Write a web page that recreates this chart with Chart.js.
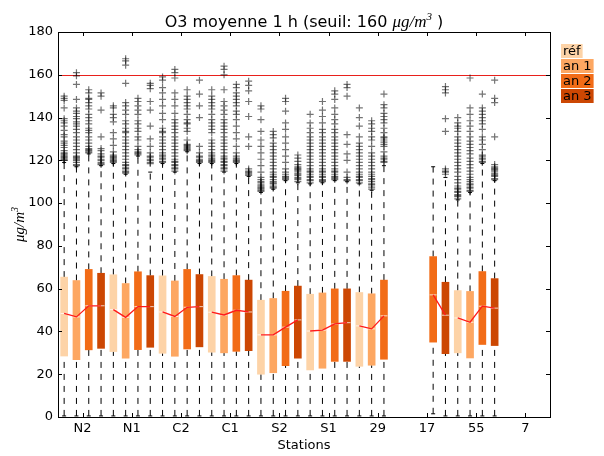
<!DOCTYPE html>
<html>
<head>
<meta charset="utf-8">
<title>O3 moyenne 1 h</title>
<script src="https://cdn.jsdelivr.net/npm/chart.js@4.4.1/dist/chart.umd.min.js"></script>
<style>
  html, body { margin: 0; padding: 0; background: #fff; }
  canvas { display: block; }
</style>
</head>
<body>
<canvas id="o3Chart" width="604" height="456"></canvas>
<script>
// Stations and periods
const stations = ['N2', 'N1', 'C2', 'C1', 'S2', 'S1', '29', '17', '55', '7'];
const periods = ['réf', 'an 1', 'an 2', 'an 3'];
const yTicks = [0, 20, 40, 60, 80, 100, 120, 140, 160, 180];
const threshold = 160;

// Box statistics per station (null = no data)
const refLow  = [0.5, 0.5, 0.5, 0.5, 0.5, 0.5, 0.5, null, 0.5, null];
const refQ1   = [28.5, 30.6, 29.8, 30.3, 20.0, 22.0, 23.7, null, 30.0, null];
const refMed  = [48.4, 50.2, 49.1, 49.0, 38.4, 40.2, 42.6, null, 46.3, null];
const refQ3   = [65.4, 66.5, 66.0, 65.7, 54.6, 57.4, 58.2, null, 59.1, null];
const refHigh = [119, 118.5, 118.5, 118.5, 105, 109, 109, null, 101.5, null];

const an1Low  = [0.5, 0.5, 0.5, 0.5, 0.5, 0.5, 0.5, null, 0.5, null];
const an1Q1   = [26.8, 27.5, 28.4, 30.0, 20.7, 22.8, 24.2, null, 27.6, null];
const an1Med  = [46.8, 46.6, 47.0, 47.7, 38.4, 40.6, 41.2, null, 44.3, null];
const an1Q3   = [63.8, 62.4, 63.6, 64.4, 55.4, 58.0, 57.6, null, 58.7, null];
const an1High = [117, 113.5, 114.5, 114.5, 106.5, 109.5, 106, null, 105, null];

const an2Low  = [0.5, 0.5, 0.5, 0.5, 0.5, 0.5, 0.5, 1.5, 0.5, null];
const an2Q1   = [31.4, 31.5, 31.8, 30.7, 24.0, 26.0, 27.0, 35.0, 33.9, null];
const an2Med  = [52.0, 51.6, 51.3, 49.9, 42.0, 43.5, 47.3, 57.1, 51.8, null];
const an2Q3   = [69.0, 67.9, 69.0, 66.1, 58.8, 59.9, 64.0, 75.0, 68.0, null];
const an2High = [123, 122, 124, 118.5, 110.5, 110.5, 117.5, 117, 118.5, null];

const an3Low  = [0.5, 0.5, 0.5, 0.5, 0.5, 0.5, null, 0.5, 0.5, null];
const an3Q1   = [32.1, 32.6, 32.8, 31.0, 27.5, 26.0, null, 29.6, 33.4, null];
const an3Med  = [52.0, 51.6, 51.6, 49.1, 45.4, 44.1, null, 47.6, 50.9, null];
const an3Q3   = [67.2, 66.1, 66.6, 64.0, 61.2, 59.9, null, 63.0, 64.7, null];
const an3High = [117.5, 114.5, 118.5, 112.5, 109.5, 110, null, 112, 110.5, null];

// Outliers above the upper whisker
const refFliers = [
  [150, 149, 148, 144.5, 139.5, 138.5, 137.5, 136, 134, 132, 131, 129, 128, 127, 126, 124.5, 123.5, 123, 122.5, 122, 121.5, 121, 120.5, 120, 120],
  [145.5, 144.5, 141.5, 140, 138, 133, 130, 127, 124, 122.5, 122, 121.5, 121, 120.5, 120, 119.5, 119],
  [159, 157.5, 154, 151.5, 148.5, 145.5, 142, 139, 135, 133.5, 133, 131, 129.5, 128, 126.5, 125, 123.5, 122.5, 122, 121, 120.5, 119.5, 119],
  [153, 150, 148.5, 147, 145.5, 144, 141.5, 139, 137.5, 136, 134.5, 133, 129.5, 128, 126.5, 125, 123.5, 122.5, 122, 121, 120.5, 120, 119.5, 119],
  [145.5, 144, 139, 133.5, 129.5, 126.5, 123.5, 120.5, 117.5, 114.5, 112, 111, 110, 109.5, 108.5, 108, 107.5, 107, 106.5, 106, 105.5],
  [141.5, 137.5, 135, 133, 131, 129.5, 128, 126.5, 125, 123.5, 122, 120.5, 119, 117.5, 116, 115, 114.5, 113.5, 112.5, 112, 111, 110.5, 109.5],
  [144.5, 140, 136, 131, 128, 126.5, 125, 123.5, 122, 120.5, 119, 117.5, 116, 114.5, 113.5, 112.5, 112, 111, 110.5, 109.5],
  [],
  [140, 137.5, 136, 135, 133.5, 131, 129.5, 128, 126.5, 125, 123.5, 122, 120.5, 119, 117.5, 116, 114.5, 112.5, 111, 109.5, 108, 107, 106.5, 105.5, 105, 104, 103.5, 103, 102],
  []
];
const an1Fliers = [
  [161, 159.5, 155.5, 148.5, 144.5, 143, 142, 140.5, 139.5, 138, 137, 136, 134.5, 133, 131, 129.5, 128, 126.5, 125, 123.5, 122, 121.5, 121, 120.5, 120, 119, 118, 117.5],
  [167.5, 166.5, 164.5, 156, 147, 145.5, 143.5, 141.5, 138.5, 137, 135, 133.5, 133, 131, 129.5, 128, 126.5, 125, 123.5, 122, 120.5, 119, 118, 117.5, 116.5, 116, 115, 114.5, 114],
  [162.5, 161, 158.5, 151.5, 148.5, 145.5, 142, 139, 137.5, 136, 134.5, 133, 131, 129.5, 128, 126.5, 125, 123.5, 122, 120.5, 119.5, 119, 118, 117.5, 116.5, 116, 115],
  [164, 162.5, 160, 153, 147.5, 145.5, 143.5, 141.5, 139, 137.5, 136, 134.5, 133, 131, 129.5, 128, 126.5, 125, 123.5, 122, 121, 120.5, 119.5, 119, 118, 117.5, 116.5, 116, 115],
  [133.5, 132, 130.5, 128, 126.5, 125, 123.5, 122, 120.5, 119, 117.5, 116, 114.5, 113.5, 112.5, 112, 111, 110, 109.5, 109, 108, 107.5, 107],
  [147.5, 143.5, 140.5, 137.5, 134.5, 133, 131, 129.5, 128, 126.5, 125, 123.5, 122, 120.5, 119, 117.5, 116, 115, 114.5, 113.5, 112.5, 112, 111, 110.5, 110],
  [138.5, 137, 135, 133.5, 131, 129.5, 126.5, 123.5, 122, 120.5, 119, 117.5, 116, 114.5, 113.5, 112.5, 111.5, 111, 110, 109, 108.5, 107.5, 106.5],
  [],
  [158.5, 144.5, 141.5, 138.5, 136, 133.5, 131, 129, 127.5, 126, 124.5, 123, 121, 119.5, 118, 116.5, 115, 113.5, 112, 111, 110, 109, 108.5, 107.5, 107, 106, 105.5],
  []
];
const an2Fliers = [
  [153, 151.5, 149, 148.5, 147, 145.5, 144, 141.5, 140, 138.5, 137, 135, 134, 133, 131, 129.5, 128, 126.5, 125.5, 125, 124.5, 124, 123.5],
  [149, 147.5, 145.5, 143.5, 141.5, 138.5, 137, 135, 133.5, 131, 129.5, 126.5, 125, 124, 123.5, 123, 122.5],
  [153, 150, 148.5, 147, 145.5, 144, 141.5, 139, 137.5, 137, 135, 133.5, 129.5, 127.5, 127, 126.5, 126, 125.5, 125, 124.5],
  [155.5, 154, 151.5, 150, 148.5, 147, 145.5, 143, 141.5, 139, 136, 133, 130, 126.5, 123.5, 122, 121, 120.5, 120, 119.5, 119],
  [149, 147.5, 143, 137.5, 134.5, 131, 128, 125, 122, 119, 116, 114.5, 113.5, 112.5, 112, 111.5, 111],
  [152.5, 151, 148.5, 144.5, 141.5, 139, 137, 134.5, 133, 131, 129.5, 128, 126.5, 125, 123.5, 122, 120.5, 119, 117.5, 116, 115, 114.5, 113.5, 112.5, 112, 111.5, 111],
  [151, 146, 144.5, 142, 140.5, 139, 137.5, 135, 133, 131, 130.5, 129.5, 128.5, 127.5, 126.5, 124, 122, 121, 120.5, 119.5, 119],
  [],
  [151, 144.5, 143, 141.5, 140, 138.5, 137, 134.5, 131, 129.5, 127.5, 125, 122.5, 122, 121, 120.5, 119.5, 119],
  []
];
const an3Fliers = [
  [151.5, 150, 143.5, 131, 125.5, 124.5, 123, 122, 121.5, 120.5, 120, 119, 118.5, 118],
  [156, 155, 153.5, 147.5, 143.5, 136, 130, 126.5, 123.5, 122, 121.5, 120.5, 120, 119, 118.5],
  [157.5, 151, 145.5, 140, 126.5, 123.5, 122, 121.5, 120.5, 120, 119.5, 119],
  [157, 155, 152.5, 147.5, 140.5, 131, 126.5, 116, 115, 114.5, 114, 113.5, 113],
  [122.5, 121, 119.5, 118, 117, 116.5, 116, 115.5, 115, 114, 113.5, 113, 112, 111.5, 111, 110],
  [155.5, 154, 150, 132, 127.5, 123, 120, 114.5, 112, 111, 110.5],
  [],
  [154.5, 153, 151.5, 139.5, 133.5, 116, 115, 114.5, 113.5],
  [157.5, 149, 147, 131, 118, 117, 116.5, 116, 115.5, 115, 114, 113.5, 113, 112.5, 111.5, 111],
  []
];

const boxColors = ['#fdd3a7', '#fda762', '#f26c17', '#cc4703'];
const boxOffsets = [-0.375, -0.125, 0.125, 0.375];

const groups = [
  { low: refLow, q1: refQ1, med: refMed, q3: refQ3, high: refHigh, fliers: refFliers },
  { low: an1Low, q1: an1Q1, med: an1Med, q3: an1Q3, high: an1High, fliers: an1Fliers },
  { low: an2Low, q1: an2Q1, med: an2Med, q3: an2Q3, high: an2High, fliers: an2Fliers },
  { low: an3Low, q1: an3Q1, med: an3Med, q3: an3Q3, high: an3High, fliers: an3Fliers }
];

// Build datasets
const datasets = [];
const whiskerPts = [];
const capPts = [];
const medianPts = [];
const flierPts = [];

groups.forEach((g, k) => {
  const boxes = [];
  stations.forEach((s, i) => {
    if (g.q1[i] == null) return;
    const xPos = i + 1 + boxOffsets[k];
    boxes.push({ x: xPos, y: [g.q1[i], g.q3[i]] });
    whiskerPts.push({ x: xPos, y: g.low[i] }, { x: xPos, y: g.q1[i] }, { x: xPos, y: null });
    whiskerPts.push({ x: xPos, y: g.q3[i] }, { x: xPos, y: g.high[i] }, { x: xPos, y: null });
    capPts.push({ x: xPos, y: g.low[i] }, { x: xPos, y: g.high[i] });
    medianPts.push({ x: xPos, y: g.med[i] });
    g.fliers[i].forEach(v => flierPts.push({ x: xPos, y: v }));
  });
  datasets.push({
    type: 'bar',
    label: periods[k],
    data: boxes,
    backgroundColor: boxColors[k],
    borderWidth: 0,
    barThickness: 7,
    grouped: false,
    order: 5
  });
});

// red line linking the medians of one station
const medianLink = [];
stations.forEach((s, i) => {
  groups.forEach((g, k) => {
    if (g.med[i] != null) medianLink.push({ x: i + 1 + boxOffsets[k], y: g.med[i] });
  });
  medianLink.push({ x: i + 1.5, y: null });
});

datasets.push({
  type: 'line', data: whiskerPts, borderColor: '#000', borderWidth: 1,
  borderDash: [6, 6], pointRadius: 0, spanGaps: false, order: 6
});
datasets.push({
  type: 'scatter', data: capPts, pointStyle: 'line', pointRadius: 2,
  borderColor: '#000', borderWidth: 1, order: 4
});
datasets.push({
  type: 'scatter', data: medianPts, pointStyle: 'line', pointRadius: 3.5,
  borderColor: 'rgba(255,255,255,0.75)', borderWidth: 1, order: 3
});
datasets.push({
  type: 'line', data: medianLink, borderColor: '#ff1a1a', borderWidth: 1.3,
  pointRadius: 0, spanGaps: false, order: 2
});
datasets.push({
  type: 'scatter', data: flierPts, pointStyle: 'cross', pointRadius: 3.5,
  borderColor: 'rgba(0,0,0,0.55)', borderWidth: 1.2, order: 1
});

// Frame, inward ticks, threshold, title, axis labels, legend
function drawParts(ctx, parts, x, y) {
  parts.forEach(p => {
    ctx.font = p.font;
    ctx.fillText(p.text, x, y + (p.dy || 0));
    x += ctx.measureText(p.text).width;
  });
}
function partsWidth(ctx, parts) {
  return parts.reduce((w, p) => { ctx.font = p.font; return w + ctx.measureText(p.text).width; }, 0);
}

const decorations = {
  id: 'decorations',
  beforeDatasetsDraw(chart) {
    const { ctx, chartArea: a, scales: { y } } = chart;
    const py = Math.round(y.getPixelForValue(threshold)) + 0.5;
    ctx.save();
    ctx.strokeStyle = '#e8201c';
    ctx.lineWidth = 1;
    ctx.beginPath();
    ctx.moveTo(a.left, py);
    ctx.lineTo(a.right, py);
    ctx.stroke();
    ctx.restore();
  },
  afterDraw(chart) {
    const { ctx, chartArea: a, scales: { x, y } } = chart;
    ctx.save();
    ctx.strokeStyle = '#000';
    ctx.lineWidth = 1;
    ctx.beginPath();
    x.ticks.forEach(t => {
      const px = Math.round(x.getPixelForValue(t.value)) + 0.5;
      ctx.moveTo(px, a.bottom); ctx.lineTo(px, a.bottom - 4);
      ctx.moveTo(px, a.top); ctx.lineTo(px, a.top + 4);
    });
    y.ticks.forEach(t => {
      const py = Math.round(y.getPixelForValue(t.value)) + 0.5;
      ctx.moveTo(a.left, py); ctx.lineTo(a.left + 4, py);
      ctx.moveTo(a.right, py); ctx.lineTo(a.right - 4, py);
    });
    ctx.stroke();
    ctx.strokeRect(Math.round(a.left) + 0.5, Math.round(a.top) + 0.5,
      Math.round(a.width), Math.round(a.height));

    ctx.fillStyle = '#000';
    ctx.textBaseline = 'alphabetic';
    ctx.textAlign = 'left';

    // title
    const title = [
      { text: 'O3 moyenne 1 h (seuil: 160 ', font: '16px "DejaVu Sans"' },
      { text: 'μg/m', font: 'italic 17px "Liberation Serif"' },
      { text: '3', font: 'italic 11px "Liberation Serif"', dy: -7 },
      { text: ' )', font: '16px "DejaVu Sans"' }
    ];
    const cx = (a.left + a.right) / 2;
    drawParts(ctx, title, cx - partsWidth(ctx, title) / 2, 27);

    // y axis label
    const yLabel = [
      { text: 'μg/m', font: 'italic 15px "Liberation Serif"' },
      { text: '3', font: 'italic 10px "Liberation Serif"', dy: -6 }
    ];
    ctx.save();
    ctx.translate(24, (a.top + a.bottom) / 2);
    ctx.rotate(-Math.PI / 2);
    drawParts(ctx, yLabel, -partsWidth(ctx, yLabel) / 2, 0);
    ctx.restore();

    // x axis label
    ctx.font = '13px "DejaVu Sans"';
    ctx.textAlign = 'center';
    ctx.textBaseline = 'middle';
    ctx.fillText('Stations', cx, 446);

    // period legend
    ctx.textAlign = 'left';
    periods.forEach((p, k) => {
      const top = 44 + k * 15;
      const w = ctx.measureText(p).width + 4;
      ctx.fillStyle = boxColors[k];
      ctx.fillRect(561, top, w, 14);
      ctx.fillStyle = '#000';
      ctx.fillText(p, 563, top + 7.5);
    });
    ctx.restore();
  }
};

const tickFont = { family: 'DejaVu Sans', size: 13 };

new Chart(document.getElementById('o3Chart'), {
  type: 'bar',
  data: { datasets },
  options: {
    responsive: false,
    animation: false,
    layout: { padding: { top: 32, right: 54, left: 0, bottom: 0 } },
    plugins: { legend: { display: false }, tooltip: { enabled: false }, title: { display: false } },
    scales: {
      x: {
        type: 'linear',
        min: 0.5,
        max: 10.5,
        offset: false,
        grid: { display: false, drawTicks: false },
        border: { display: false },
        afterBuildTicks: scale => { scale.ticks = stations.map((s, i) => ({ value: i + 1 })); },
        afterFit: scale => { scale.height = 39; },
        ticks: {
          autoSkip: false,
          maxRotation: 0,
          padding: 4,
          color: '#000',
          font: tickFont,
          callback: v => stations[v - 1] || ''
        }
      },
      y: {
        min: 0,
        max: 180,
        grid: { display: false, drawTicks: false },
        border: { display: false },
        afterBuildTicks: scale => { scale.ticks = yTicks.map(v => ({ value: v })); },
        afterFit: scale => { scale.width = 58; },
        ticks: { padding: 5, color: '#000', font: tickFont }
      }
    }
  },
  plugins: [decorations]
});
</script>
</body>
</html>
